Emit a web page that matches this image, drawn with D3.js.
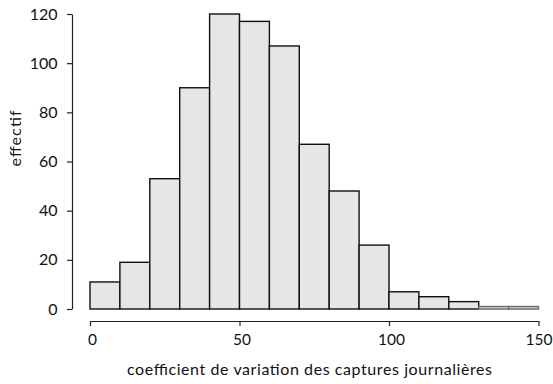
<!DOCTYPE html>
<html>
<head>
<meta charset="utf-8">
<script src="https://cdn.jsdelivr.net/npm/d3@7"></script>
<style>
  html, body { margin: 0; padding: 0; background: #fff; }
  svg { display: block; }
  .tick text { font-family: Lato, "Open Sans", sans-serif; font-size: 16px; fill: #111; }
  .xax .tick text { font-size: 15.5px; }
  .lbl { font-family: Lato, "Open Sans", sans-serif; font-size: 16px; fill: #111; }
</style>
</head>
<body>
<svg id="chart" width="553" height="384"></svg>
<script>
// Histogram: coefficient of variation of daily catches, bins of width 10
const binStarts = [0, 10, 20, 30, 40, 50, 60, 70, 80, 90, 100, 110, 120, 130, 140];
const binWidth = 10;
const counts = [11, 19, 53, 90, 120, 117, 107, 67, 48, 26, 7, 5, 3, 1, 1];
const xTicks = [0, 50, 100, 150];
const yTicks = [0, 20, 40, 60, 80, 100, 120];

const svg = d3.select("#chart");

const x = d3.scaleLinear().domain([0, 150]).range([90, 538.5]);
const y = d3.scaleLinear().domain([0, 120]).range([309, 14]);

const bins = binStarts.map((s, i) => ({ x0: s, x1: s + binWidth, n: counts[i] }));

svg.append("g")
  .selectAll("rect")
  .data(bins)
  .join("rect")
  .attr("x", d => x(d.x0))
  .attr("y", d => y(d.n))
  .attr("width", d => x(d.x1) - x(d.x0))
  .attr("height", d => y(0) - y(d.n))
  .attr("fill", "#e6e6e8")
  .attr("stroke", d => d.n <= 1 ? "#666" : "#111")
  .attr("stroke-width", 1.4);

const yAxis = d3.axisLeft(y).tickValues(yTicks).tickSize(5).tickSizeOuter(0).tickPadding(9.5);
const yg = svg.append("g").attr("transform", "translate(72,0)").call(yAxis);

const xAxis = d3.axisBottom(x).tickValues(xTicks).tickSize(5).tickSizeOuter(0).tickPadding(7.5);
const xg = svg.append("g").attr("class", "xax").attr("transform", "translate(0,321)").call(xAxis);
xg.selectAll(".tick text").attr("dx", d => d === 150 ? 0 : 2);

[yg, xg].forEach(g => {
  g.select(".domain").attr("stroke", "#222").attr("stroke-width", 1.2);
  g.selectAll(".tick line").attr("stroke", "#222").attr("stroke-width", 1.2);
});

svg.append("text")
  .attr("class", "lbl")
  .attr("x", 309.5)
  .attr("y", 375)
  .attr("text-anchor", "middle")
  .attr("textLength", 365)
  .attr("lengthAdjust", "spacing")
  .text("coefficient de variation des captures journalières");

svg.append("text")
  .attr("class", "lbl")
  .attr("transform", "translate(20.5,138.5) rotate(-90)")
  .attr("text-anchor", "middle")
  .attr("textLength", 56)
  .attr("lengthAdjust", "spacing")
  .text("effectif");
</script>
</body>
</html>
